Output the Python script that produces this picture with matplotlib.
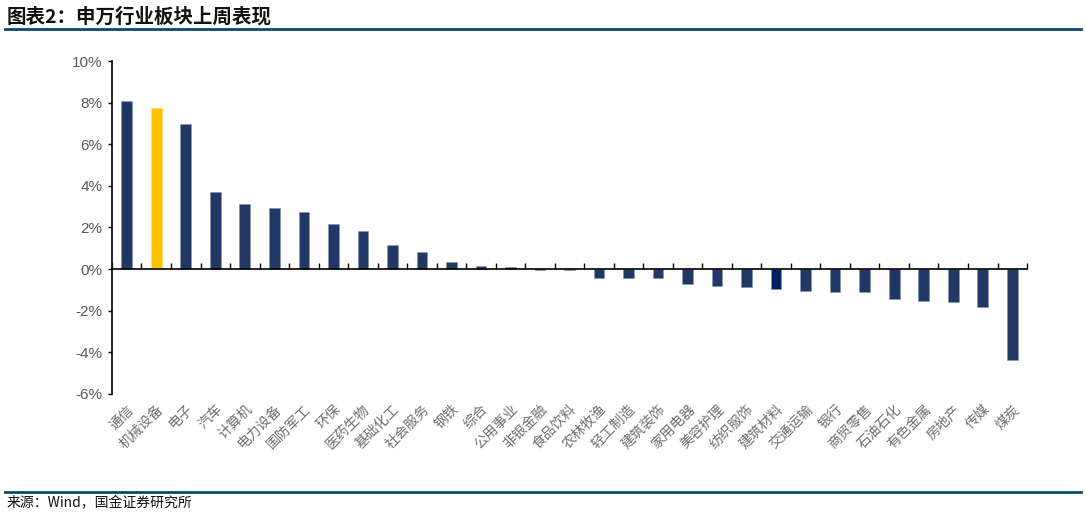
import numpy as np
import matplotlib
matplotlib.use("Agg")
import matplotlib.pyplot as plt
from matplotlib.ticker import FixedLocator, PercentFormatter
from matplotlib.lines import Line2D

plt.rcParams["font.family"] = ["Noto Sans CJK SC", "DejaVu Sans"]
plt.rcParams["axes.unicode_minus"] = False

# 申万行业上周涨跌幅 (%)
industries = ["通信", "机械设备", "电子", "汽车", "计算机", "电力设备", "国防军工", "环保",
              "医药生物", "基础化工", "社会服务", "钢铁", "综合", "公用事业", "非银金融",
              "食品饮料", "农林牧渔", "轻工制造", "建筑装饰", "家用电器", "美容护理",
              "纺织服饰", "建筑材料", "交通运输", "银行", "商贸零售", "石油石化",
              "有色金属", "房地产", "传媒", "煤炭"]
returns = [8.10, 7.75, 6.95, 3.72, 3.14, 2.92, 2.72, 2.18, 1.84, 1.18, 0.82, 0.32,
           0.15, 0.10, -0.02, -0.03, -0.45, -0.45, -0.45, -0.73, -0.81, -0.88,
           -0.95, -1.03, -1.10, -1.10, -1.46, -1.55, -1.60, -1.82, -4.35]
highlight = {"机械设备": "#FFC000", "建筑材料": "#002060"}
yticks = [-6, -4, -2, 0, 2, 4, 6, 8, 10]

navy = "#1F3864"
grey = "#595959"

fig = plt.figure(figsize=(10.86, 5.17), dpi=100)
ax = fig.add_axes([0.1031, 0.238, 0.8426, 0.644])

x = np.arange(len(industries))
colors = [highlight.get(n, navy) for n in industries]
ax.bar(x, returns, width=0.36, color=colors, edgecolor="#8497B0", linewidth=0.4, zorder=2)
ax.patches[1].set_edgecolor("#FFD966")

ax.set_xlim(-0.5, len(industries) - 0.5)
ax.set_ylim(-6, 10)
ax.yaxis.set_major_locator(FixedLocator(yticks))
ax.yaxis.set_major_formatter(PercentFormatter(decimals=0))
ax.tick_params(axis="y", direction="out", length=3, width=1, labelsize=11,
               labelcolor=grey, pad=4)
for lab in ax.get_yticklabels():
    lab.set_family(["Liberation Sans", "DejaVu Sans"])

for s in ["top", "right"]:
    ax.spines[s].set_visible(False)
ax.spines["left"].set_linewidth(1.2)
ax.spines["bottom"].set_position(("data", 0))
ax.spines["bottom"].set_linewidth(1.2)

# ticks between categories on the zero line
ax.set_xticks(x)
ax.set_xticks(np.arange(-0.5, len(industries) + 0.5, 1), minor=True)
ax.tick_params(axis="x", which="major", length=0, labelbottom=False)
ax.tick_params(axis="x", which="minor", direction="in", length=4, width=1)

# category labels at the bottom of the plot
sec = ax.secondary_xaxis(0.0)
sec.set_xticks(x)
sec.set_xticklabels(industries, rotation=45, ha="right", va="top",
                    rotation_mode="anchor", fontsize=10, color="#6F6F6F",
                    fontweight="light")
sec.tick_params(length=0, pad=6)
sec.spines["bottom"].set_visible(False)

# title and source
fig.text(0.006, 0.968, "图表2：申万行业板块上周表现", fontsize=14, fontweight="bold",
         style="italic", color="#111111", va="center", ha="left")
fig.add_artist(Line2D([0.005, 0.995], [0.944, 0.944], color="#0B4A6E", linewidth=2))
fig.add_artist(Line2D([0.005, 0.995], [0.048, 0.048], color="#0B4A6E", linewidth=2))
fig.text(0.006, 0.027, "来源：Wind，国金证券研究所", fontsize=10, color="#111111",
         va="center", ha="left")

fig.savefig("out.png", dpi=100)
